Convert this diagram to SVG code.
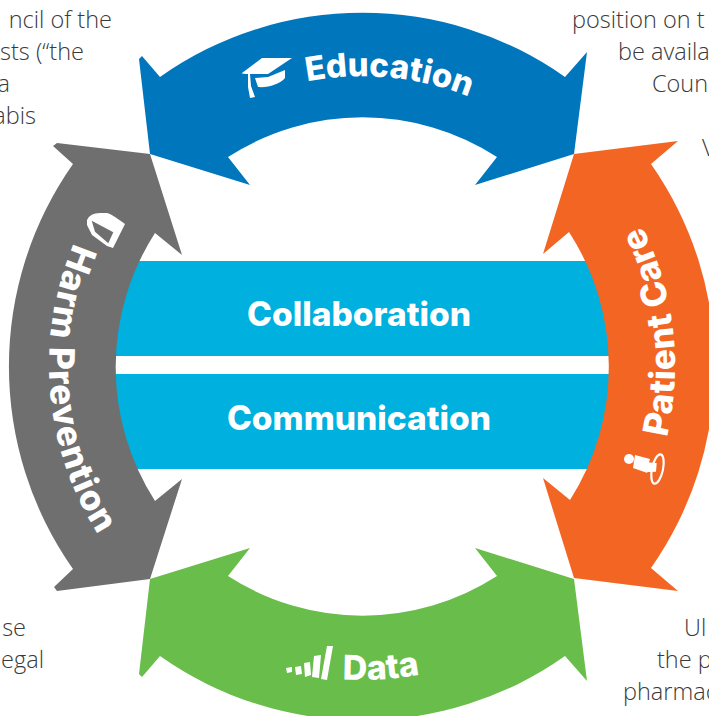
<svg xmlns="http://www.w3.org/2000/svg" width="709" height="716" viewBox="0 0 709 716">
<style>
.body{font-family:"Open Sans","Liberation Sans",sans-serif;font-weight:300;font-size:23.500px;fill:#3a3a3a}
.r{text-anchor:end}
.lab{font-family:"Inter","Liberation Sans",sans-serif;font-weight:800;fill:#fff}
.ico{fill:#fff}
</style>
<defs>
<path id="pEdu" d="M111 221A290 290 0 0 1 613 221"/>
<path id="pHarm" d="M105.600 186.500A313 313 0 0 0 105.600 545.500"/>
<path id="pCare" d="M618.400 545.500A313 313 0 0 0 618.400 186.500"/>
<path id="pData" d="M140 588A314 314 0 0 0 584 588"/>
</defs>
<rect width="709" height="716" fill="#fff"/>
<g id="body-text">
<text class="body r" x="112" y="28">ncil of the</text>
<text class="body r" x="84" y="60">sts (“the</text>
<text class="body r" x="10" y="92">a</text>
<text class="body r" x="36" y="124">abis</text>
<text class="body" x="572" y="28">position on t</text>
<text class="body" x="618" y="60">be availa</text>
<text class="body" x="652" y="92">Coun</text>
<text class="body" x="702" y="156">V</text>
<text class="body r" x="26" y="636">se</text>
<text class="body r" x="44" y="668">egal</text>
<text class="body" x="684" y="636">Ul</text>
<text class="body" x="657" y="668">the p</text>
<text class="body" x="623" y="700">pharmac</text>
</g>
<g id="connectors"></g>
<g id="collaboration"><rect x="115.500" y="261" width="494" height="95" fill="#00B0DE"/><text class="lab" x="359" y="326" font-size="33.500" text-anchor="middle">Collaboration</text></g>
<g id="communication"><rect x="115.500" y="374" width="494" height="95" fill="#00B0DE"/><text class="lab" x="359" y="430" font-size="33.500" text-anchor="middle">Communication</text></g>
<g id="education">
<path fill="#0076BD" d="M150 154L139 59L142 56L160 77A351 351 0 0 1 565 77L587 52L574 154L475 185L497 157A248 248 0 0 0 228 157L250 185Z"/>
<path class="ico" d="M242 73L262 58H292L268 74L246 74L241.700 73.500Z"/>
<path class="ico" d="M255 78L268 77L285 70V78C280 84 268 88 258 87Z"/>
<path class="ico" d="M248 74H250L251 86L255 97L250 98L248 87Z"/>
<text class="lab" font-size="33"><textPath href="#pEdu" startOffset="248">Education</textPath></text>
</g>
<g id="harm-prevention">
<path fill="#6F6F6F" d="M150 154L57 143L53 146L73 164A352 352 0 0 0 73 569L54 587L57 591L150 579L182 479L155 501A248 248 0 0 1 155 233L182 255Z"/>
<path class="ico" fill-rule="evenodd" d="M87 220Q90 213 100 213H107Q110 213 125 224L113 248L107 246L92 235L87 225ZM91.700 220.700L95 231.700L108.300 243.300L113.300 232.300Z"/>
<text class="lab" font-size="35" letter-spacing="1"><textPath href="#pHarm" startOffset="65">Harm Prevention</textPath></text>
</g>
<g id="patient-care">
<path fill="#F36523" d="M574 154L678 141L651 164A352 352 0 0 1 651 568L678 591L574 578L543 478L570 500A248 248 0 0 0 569 232L543 254Z"/>
<circle class="ico" cx="629" cy="459" r="5"/>
<path class="ico" d="M635 455L650 459L649 462.500L656.700 463L656 471.700L648 472L646.700 472.700L633 468Z"/>
<ellipse cx="657.500" cy="469" rx="5.500" ry="15" transform="rotate(12 657.500 469)" fill="none" stroke="#fff" stroke-width="2.200"/>
<text class="lab" font-size="35" letter-spacing="0.500"><textPath href="#pCare" startOffset="119">Patient Care</textPath></text>
</g>
<g id="data">
<path fill="#69BD4B" d="M150 579L139 674L142 677L160 656A351 351 0 0 0 565 656L587 681L574 579L475 548L497 576A248 248 0 0 1 228 576L250 548Z"/>
<path class="ico" d="M286 668L292 667L292 672L287 673ZM295 667L301 666L302 674L296 675ZM304 663L310 662L311 675L305 677ZM314 656L321 655L319 678L312 677ZM327 646L333 646L327 680L321 679Z"/>
<text class="lab" font-size="34"><textPath href="#pData" startOffset="227">Data</textPath></text>
</g>
</svg>
